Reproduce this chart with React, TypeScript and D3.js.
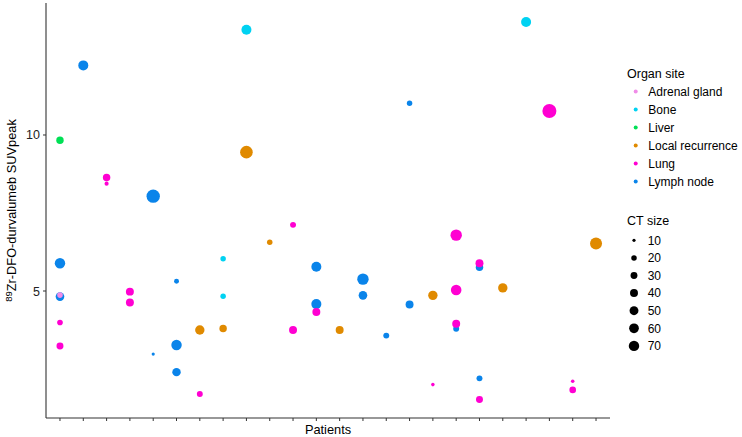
import React from "react";
import * as d3 from "d3";

// categories
const patients = [
  "P01", "P02", "P03", "P04", "P05", "P06", "P07", "P08", "P09", "P10", "P11", "P12",
  "P13", "P14", "P15", "P16", "P17", "P18", "P19", "P20", "P21", "P22", "P23", "P24",
];
const organs = ["Adrenal gland", "Bone", "Liver", "Local recurrence", "Lung", "Lymph node"];
const organColors = ["#f08ce8", "#00d2f2", "#00e055", "#e08a00", "#ff00d2", "#0a84ea"];

// lesions (lymph nodes first so the others sit on top of them)
const lesionPatient = [
  0, 0, 1, 4, 4, 5, 5, 5, 11, 11, 13, 13, 14, 15, 15, 17, 18, 18,
  0, 0, 0, 0, 2, 2, 3, 3, 6, 6, 7, 7, 7, 8, 8, 9, 10, 10, 11, 12, 16, 16,
  17, 17, 17, 18, 18, 19, 20, 21, 22, 22, 23,
];
const lesionOrgan = [
  5, 5, 5, 5, 5, 5, 5, 5, 5, 5, 5, 5, 5, 5, 5, 5, 5, 5,
  0, 2, 4, 4, 4, 4, 4, 4, 3, 4, 1, 1, 3, 1, 3, 3, 4, 4, 4, 3, 3, 4,
  4, 4, 4, 4, 4, 3, 1, 4, 4, 4, 3,
];
const lesionSuv = [
  5.89, 4.82, 12.23, 8.04, 2.98, 5.31, 3.27, 2.4, 5.78, 4.58, 5.38, 4.86, 3.57, 11.02, 4.57, 3.79, 5.76, 2.2,
  4.87, 9.83, 3.99, 3.24, 8.64, 8.44, 4.98, 4.63, 3.75, 1.7, 6.03, 4.83, 3.8, 13.37, 9.45, 6.56, 7.12, 3.75,
  4.33, 3.75, 4.86, 2.0, 6.79, 5.03, 3.95, 5.89, 1.52, 5.1, 13.62, 10.77, 2.11, 1.83, 6.52,
];
const lesionCtSize = [
  70, 47, 64, 118, 10, 17, 70, 45, 64, 64, 84, 47, 23, 20, 40, 23, 35, 23,
  21, 35, 21, 31, 35, 13, 40, 40, 56, 23, 20, 20, 35, 64, 104, 20, 23, 40,
  40, 40, 56, 11, 84, 72, 40, 40, 31, 56, 64, 130, 11, 28, 94,
];

const sizeBreaks = [10, 20, 30, 40, 50, 60, 70];
const yTicks = [5, 10];

const W = 742;
const H = 437;
const plot = { left: 46, right: 610, top: 3, bottom: 418 };
const font = "'Liberation Sans', Arial, sans-serif";
const axisColor = "#333333";

export default function App() {
  const x = d3.scalePoint<string>().domain(patients).range([plot.left, plot.right]).padding(0.6);
  const y = d3.scaleLinear().domain([0.93, 14.23]).range([plot.bottom, plot.top]);
  const sizeMin = 8;
  const r = d3.scaleSqrt().domain([0, 122]).range([0.8, 7]);
  const radius = (s: number) => r(s - sizeMin);

  const lesions = lesionSuv.map((v, i) => ({
    patient: patients[lesionPatient[i]],
    color: organColors[lesionOrgan[i]],
    suv: v,
    size: lesionCtSize[i],
  }));

  const legendX = 627;

  return (
    <svg
      width={W}
      height={H}
      style={{ position: "absolute", left: 0, top: 0, background: "#fff" }}
      fontFamily={font}
    >
      <rect width={W} height={H} fill="#fff" />

      {/* points */}
      <g>
        {lesions.map((d, i) => (
          <circle key={i} cx={x(d.patient)} cy={y(d.suv)} r={radius(d.size)} fill={d.color} />
        ))}
      </g>

      {/* y axis */}
      <line x1={plot.left} x2={plot.left} y1={plot.top} y2={plot.bottom} stroke={axisColor} strokeWidth={1.1} />
      {yTicks.map((t) => (
        <g key={t} transform={`translate(0,${y(t)})`}>
          <line x1={plot.left - 3} x2={plot.left} stroke={axisColor} strokeWidth={1} />
          <text x={plot.left - 6} dy="0.36em" textAnchor="end" fontSize={12.5} fill="#222">
            {t}
          </text>
        </g>
      ))}

      {/* x axis */}
      <line x1={plot.left} x2={plot.right} y1={plot.bottom} y2={plot.bottom} stroke={axisColor} strokeWidth={1.1} />
      {patients.map((p) => (
        <line key={p} x1={x(p)} x2={x(p)} y1={plot.bottom} y2={plot.bottom + 3} stroke={axisColor} strokeWidth={1} />
      ))}
      <text x={(plot.left + plot.right) / 2} y={434} textAnchor="middle" fontSize={12.8} fill="#000">
        Patients
      </text>

      <text
        transform={`translate(16,${(plot.top + plot.bottom) / 2}) rotate(-90)`}
        textAnchor="middle"
        fontSize={12.8}
        fill="#000"
      >
        <tspan fontSize={9.5} dy="-4.5">89</tspan>
        <tspan dy="4.5">Zr-DFO-durvalumeb SUVpeak</tspan>
      </text>

      {/* organ legend */}
      <text x={legendX} y={77.5} fontSize={12.5} fill="#000">Organ site</text>
      {organs.map((o, i) => (
        <g key={o} transform={`translate(0,${91.6 + i * 18})`}>
          <circle cx={635.7} cy={0} r={2} fill={organColors[i]} />
          <text x={648.3} dy="0.36em" fontSize={12} fill="#000">{o}</text>
        </g>
      ))}

      {/* size legend */}
      <text x={legendX} y={224.5} fontSize={12.5} fill="#000">CT size</text>
      {sizeBreaks.map((s, i) => (
        <g key={s} transform={`translate(0,${240.3 + i * 17.6})`}>
          <circle cx={634} cy={0} r={radius(s)} fill="#000" />
          <text x={647.7} dy="0.36em" fontSize={12} fill="#000">{s}</text>
        </g>
      ))}
    </svg>
  );
}
